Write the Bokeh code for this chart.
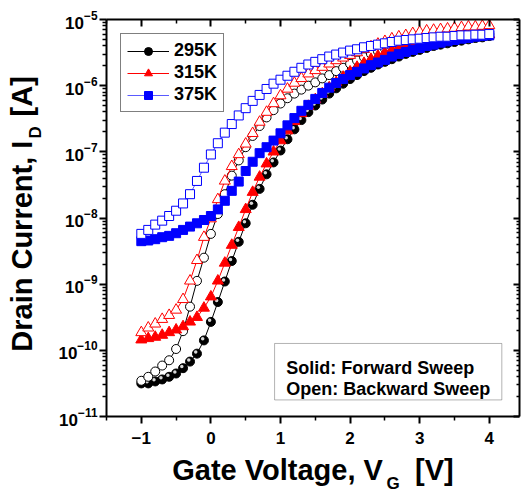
import numpy as np
from bokeh.plotting import figure
from bokeh.models import (LinearAxis, FixedTicker, Range1d, Legend,
                          LegendItem, Label, BoxAnnotation, ColumnDataSource,
                          CustomJSTickFormatter, Title)
from bokeh.embed import file_html
from bokeh.resources import INLINE

# Gate voltage sweep points (V)
gate_v = [round(-1.0 + 0.1 * i, 1) for i in range(51)]

# log10 of drain current (A); forward = solid symbols, backward = open symbols
log_id_295_fwd = [-10.50, -10.50, -10.47, -10.44, -10.40, -10.35, -10.27, -10.17, -10.05, -9.85,
                  -9.57, -9.27, -8.96, -8.65, -8.36, -8.08, -7.80, -7.56, -7.34, -7.16,
                  -6.98, -6.81, -6.66, -6.52, -6.40, -6.30, -6.21, -6.12, -6.04, -5.97,
                  -5.90, -5.84, -5.78, -5.73, -5.68, -5.64, -5.60, -5.56, -5.52, -5.49,
                  -5.46, -5.43, -5.40, -5.38, -5.36, -5.34, -5.32, -5.30, -5.28, -5.27,
                  -5.25]
log_id_295_bwd = [-10.46, -10.40, -10.32, -10.23, -10.15, -9.98, -9.71, -9.34, -8.95, -8.60,
                  -8.24, -7.94, -7.64, -7.36, -7.13, -6.93, -6.76, -6.61, -6.48, -6.37,
                  -6.27, -6.19, -6.12, -6.06, -6.00, -5.95, -5.89, -5.84, -5.78, -5.73,
                  -5.67, -5.62, -5.57, -5.52, -5.48, -5.44, -5.41, -5.38, -5.35, -5.33,
                  -5.31, -5.30, -5.28, -5.27, -5.26, -5.25, -5.25, -5.24, -5.23, -5.23,
                  -5.22]
log_id_315_fwd = [-9.84, -9.82, -9.80, -9.77, -9.73, -9.69, -9.64, -9.57, -9.50, -9.36,
                  -9.19, -8.95, -8.68, -8.41, -8.14, -7.87, -7.61, -7.38, -7.18, -7.00,
                  -6.83, -6.68, -6.54, -6.42, -6.31, -6.21, -6.12, -6.03, -5.95, -5.87,
                  -5.79, -5.72, -5.66, -5.60, -5.55, -5.50, -5.46, -5.42, -5.39, -5.37,
                  -5.35, -5.33, -5.31, -5.30, -5.29, -5.28, -5.27, -5.26, -5.25, -5.24,
                  -5.23]
log_id_315_bwd = [-9.73, -9.66, -9.60, -9.53, -9.47, -9.39, -9.23, -8.95, -8.64, -8.29,
                  -8.01, -7.72, -7.44, -7.22, -7.04, -6.88, -6.72, -6.55, -6.40, -6.27,
                  -6.15, -6.05, -5.96, -5.89, -5.82, -5.77, -5.72, -5.67, -5.62, -5.58,
                  -5.54, -5.50, -5.45, -5.41, -5.37, -5.33, -5.29, -5.26, -5.24, -5.21,
                  -5.19, -5.17, -5.16, -5.15, -5.14, -5.13, -5.12, -5.11, -5.11, -5.10,
                  -5.09]
log_id_375_fwd = [-8.35, -8.34, -8.32, -8.29, -8.27, -8.23, -8.18, -8.13, -8.08, -8.03,
                  -7.97, -7.87, -7.74, -7.59, -7.45, -7.29, -7.15, -7.02, -6.93, -6.83,
                  -6.72, -6.60, -6.49, -6.38, -6.29, -6.20, -6.11, -6.03, -5.96, -5.90,
                  -5.84, -5.79, -5.74, -5.69, -5.65, -5.61, -5.56, -5.52, -5.49, -5.46,
                  -5.43, -5.40, -5.38, -5.35, -5.33, -5.31, -5.29, -5.28, -5.26, -5.25,
                  -5.24]
log_id_375_bwd = [-8.24, -8.18, -8.10, -8.04, -7.97, -7.89, -7.78, -7.64, -7.44, -7.24,
                  -7.04, -6.87, -6.71, -6.58, -6.45, -6.34, -6.23, -6.14, -6.05, -5.97,
                  -5.91, -5.85, -5.79, -5.73, -5.68, -5.64, -5.60, -5.56, -5.53, -5.50,
                  -5.47, -5.45, -5.42, -5.40, -5.38, -5.36, -5.34, -5.32, -5.31, -5.30,
                  -5.29, -5.28, -5.27, -5.26, -5.26, -5.25, -5.24, -5.24, -5.23, -5.23,
                  -5.22]

temperatures = ["295K", "315K", "375K"]
x_major = [-1, 0, 1, 2, 3, 4]
x_minor = [-1.5, -0.5, 0.5, 1.5, 2.5, 3.5]
y_decades = list(range(-11, -4))

FONT = "Liberation Sans"
NB = "\u00a0"

p = figure(width=521, height=492, output_backend="svg", toolbar_location=None,
           x_range=Range1d(-1.5, 4.434), y_range=Range1d(1e-11, 1e-5),
           y_axis_type="log", min_border_left=106, min_border_right=2,
           min_border_top=19, min_border_bottom=76)
p.grid.visible = False
p.outline_line_color = None
p.background_fill_color = "white"

x_ticker = FixedTicker(ticks=x_major, minor_ticks=x_minor)
y_ticker = FixedTicker(ticks=[10.0 ** e for e in y_decades],
                       minor_ticks=[m * 10.0 ** e for e in y_decades[:-1] for m in range(2, 10)])


def style_axis(ax, tick_in, tick_out, labels=True):
    ax.axis_line_width = 2
    ax.axis_line_color = "black"
    ax.major_tick_line_width = 2
    ax.minor_tick_line_width = 1.5
    ax.major_tick_in = tick_in[0]
    ax.minor_tick_in = tick_in[1]
    ax.major_tick_out = tick_out[0]
    ax.minor_tick_out = tick_out[1]
    if labels:
        ax.major_label_text_font = FONT
        ax.major_label_text_font_style = "bold"
        ax.major_label_text_font_size = "17px"
        ax.major_label_text_color = "black"
        ax.axis_label_text_font = FONT
        ax.axis_label_text_font_style = "bold"
        ax.axis_label_text_font_size = "29px"
        ax.axis_label_text_color = "black"
    else:
        # mirrored frame axes carry ticks only
        ax.formatter = CustomJSTickFormatter(code="return ''")
        ax.major_label_text_font_size = "1px"
        ax.major_label_standoff = 0


xb = p.xaxis[0]
xb.ticker = x_ticker
style_axis(xb, (0, 0), (7, 4))
xb.major_label_standoff = 8
xb.axis_label = "Gate Voltage, V" + NB * 4 + "[V]"
xb.axis_label_standoff = 7

yl = p.yaxis[0]
yl.ticker = y_ticker
style_axis(yl, (0, 0), (7, 4))
yl.major_label_standoff = 2
yl.axis_label = NB + "Drain Current, I" + NB * 3 + "[A]"
yl.axis_label_standoff = 17

top_ax = LinearAxis(ticker=x_ticker)
style_axis(top_ax, (7, 4), (0, 0), labels=False)
p.add_layout(top_ax, "above")

right_ax = LinearAxis(ticker=y_ticker)
style_axis(right_ax, (6, 3), (0, 0), labels=False)
p.add_layout(right_ax, "right")

# subscripts of the axis titles
sub_kw = dict(text_font=FONT, text_font_style="bold", text_color="black",
              text_font_size="17px", align="left")
p.add_layout(Title(text="G", offset=280, standoff=-30, vertical_align="top", **sub_kw), "below")
p.add_layout(Title(text="D", offset=278, standoff=-83, vertical_align="bottom", **sub_kw), "left")


def series_source(log_vals):
    id_vals = [10.0 ** v for v in log_vals]
    return ColumnDataSource(dict(v=gate_v, i=id_vals,
                                 hv=[x - 0.018 for x in gate_v],
                                 hi=[y * 10.0 ** 0.024 for y in id_vals]))


styles = {
    "295K": dict(color="black", line="black", marker="circle", size=9),
    "315K": dict(color="red", line="red", marker="triangle", size=11),
    "375K": dict(color="blue", line="#5a5aff", marker="square", size=9),
}
data = {
    "295K": (log_id_295_fwd, log_id_295_bwd),
    "315K": (log_id_315_fwd, log_id_315_bwd),
    "375K": (log_id_375_fwd, log_id_375_bwd),
}

legend_items = []
for t in temperatures:
    st = styles[t]
    fwd = series_source(data[t][0])
    bwd = series_source(data[t][1])
    lf = p.line("v", "i", source=fwd, line_color=st["line"], line_width=1)
    p.line("v", "i", source=bwd, line_color=st["line"], line_width=1)
    sf = p.scatter("v", "i", source=fwd, marker=st["marker"], size=st["size"],
                   fill_color=st["color"], line_color=st["color"], line_width=1)
    if t == "295K":
        # glossy highlight on the solid spheres
        p.scatter("hv", "hi", source=fwd, marker="circle", size=3.5,
                  fill_color="#d8d8d8", line_color=None)
    p.scatter("v", "i", source=bwd, marker=st["marker"], size=st["size"],
              fill_color="white", line_color=st["color"], line_width=1)
    legend_items.append(LegendItem(label=t, renderers=[lf, sf]))

legend = Legend(items=legend_items, location="top_left", margin=14, padding=6,
                spacing=1, glyph_width=42, glyph_height=20, label_height=20,
                label_standoff=5, label_text_font=FONT, label_text_font_style="bold",
                label_text_font_size="18px", label_text_color="black",
                border_line_color="black", border_line_width=1,
                background_fill_color="white", background_fill_alpha=1)
p.add_layout(legend)

# note box
p.add_layout(BoxAnnotation(left=0.915, right=4.18, top=1.27e-10, bottom=1.78e-11,
                           fill_color="white", fill_alpha=1.0,
                           line_color="black", line_width=1))
for txt, yy in (("Solid: Forward Sweep", 10 ** -10.26), ("Open: Backward Sweep", 10 ** -10.58)):
    p.add_layout(Label(x=1.083, y=yy, text=txt, text_font=FONT, text_font_style="bold",
                       text_font_size="18px", text_color="black",
                       text_baseline="alphabetic", text_align="left"))

open("out.html", "w").write(file_html(p, INLINE))
